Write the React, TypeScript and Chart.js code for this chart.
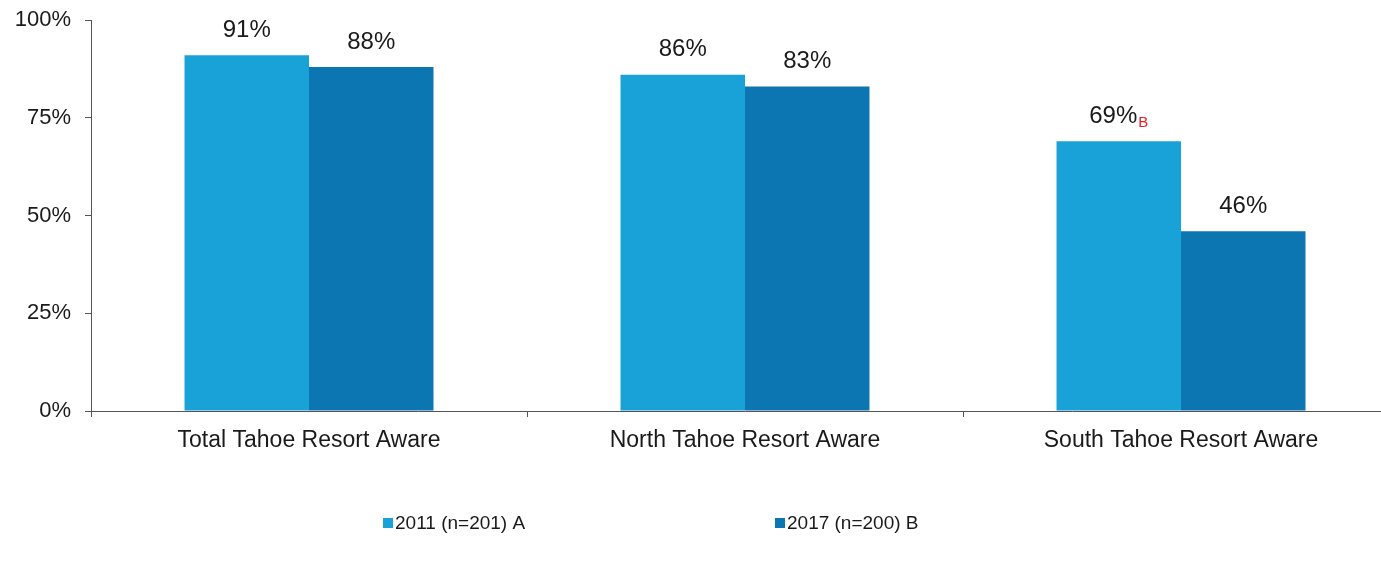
import React, { useEffect, useRef } from "react";
import { Chart, registerables } from "chart.js";

Chart.register(...registerables);

const categories = ["Total Tahoe Resort Aware", "North Tahoe Resort Aware", "South Tahoe Resort Aware"];
const seriesLabels = ["2011 (n=201) A", "2017 (n=200) B"];
const values2011 = [91, 86, 69];
const values2017 = [88, 83, 46];
const sig2011 = ["", "", "B"];
const sig2017 = ["", "", ""];
const yTicks = [0, 25, 50, 75, 100];

const COLOR_A = "#18a2d8";
const COLOR_B = "#0b76b2";
const FONT = "'Liberation Sans', Arial, sans-serif";

const dataLabelPlugin = {
  id: "dataLabels",
  afterDatasetsDraw(chart: any) {
    const ctx = chart.ctx;
    const sigs = [sig2011, sig2017];
    ctx.save();
    ctx.textBaseline = "middle";
    chart.data.datasets.forEach((ds: any, di: number) => {
      const meta = chart.getDatasetMeta(di);
      meta.data.forEach((bar: any, i: number) => {
        const main = ds.data[i] + "%";
        const sig = sigs[di][i];
        ctx.font = "24px " + FONT;
        const wMain = ctx.measureText(main).width;
        ctx.font = "15px " + FONT;
        const wSig = sig ? ctx.measureText(sig).width + 1 : 0;
        const total = wMain + wSig;
        const x0 = bar.x - total / 2;
        const y = bar.y - 25;
        ctx.textAlign = "left";
        ctx.fillStyle = "#1a1a1a";
        ctx.font = "24px " + FONT;
        ctx.fillText(main, x0, y);
        if (sig) {
          ctx.fillStyle = "#e8202a";
          ctx.font = "15px " + FONT;
          ctx.fillText(sig, x0 + wMain + 1, y + 7);
        }
      });
    });
    ctx.restore();
  },
};

const legendPlugin = {
  id: "customLegend",
  afterDraw(chart: any) {
    const ctx = chart.ctx;
    const xs = [383, 775];
    const y = 523;
    ctx.save();
    ctx.font = "19px " + FONT;
    ctx.textBaseline = "middle";
    ctx.textAlign = "left";
    chart.data.datasets.forEach((ds: any, di: number) => {
      ctx.fillStyle = ds.backgroundColor;
      ctx.fillRect(xs[di], y - 5, 10, 10);
      ctx.fillStyle = "#1a1a1a";
      ctx.fillText(ds.label, xs[di] + 12, y + 1);
    });
    ctx.restore();
  },
};

export default function App() {
  const ref = useRef<HTMLCanvasElement | null>(null);
  useEffect(() => {
    if (!ref.current) return;
    const chart = new Chart(ref.current, {
      type: "bar",
      data: {
        labels: categories,
        datasets: [
          { label: seriesLabels[0], data: values2011, backgroundColor: COLOR_A, barPercentage: 1, categoryPercentage: 0.571 },
          { label: seriesLabels[1], data: values2017, backgroundColor: COLOR_B, barPercentage: 1, categoryPercentage: 0.571 },
        ],
      },
      options: {
        responsive: false,
        animation: false,
        layout: { padding: { top: 20, right: 21, left: 0, bottom: 0 } },
        plugins: { legend: { display: false }, tooltip: { enabled: false } },
        scales: {
          x: {
            offset: true,
            grid: { display: true, offset: true, drawOnChartArea: false, drawTicks: true, tickLength: 6, color: "#555" },
            border: { display: true, color: "#555", width: 1 },
            ticks: { color: "#1a1a1a", font: { family: FONT, size: 23 }, padding: 10, maxRotation: 0 },
            afterFit: (s: any) => { s.height = 153; s.paddingLeft = 0; s.paddingRight = 0; },
          },
          y: {
            min: 0,
            max: 100,
            afterBuildTicks: (s: any) => { s.ticks = yTicks.map((v) => ({ value: v })); },
            grid: { display: true, drawOnChartArea: false, drawTicks: true, tickLength: 6, color: "#555" },
            border: { display: true, color: "#555", width: 1 },
            ticks: { color: "#1a1a1a", font: { family: FONT, size: 22 }, padding: 14, callback: (v: any) => v + "%" },
            afterFit: (s: any) => { s.width = 91; s.paddingTop = 0; s.paddingBottom = 0; },
          },
        },
      },
      plugins: [dataLabelPlugin, legendPlugin],
    });
    return () => chart.destroy();
  }, []);
  return (
    <div style={{ position: "fixed", left: 0, top: 0, width: 1381, height: 564, overflow: "hidden", background: "#fff" }}>
      <canvas ref={ref} width={1420} height={564} style={{ display: "block", width: 1420, height: 564 }} />
    </div>
  );
}
